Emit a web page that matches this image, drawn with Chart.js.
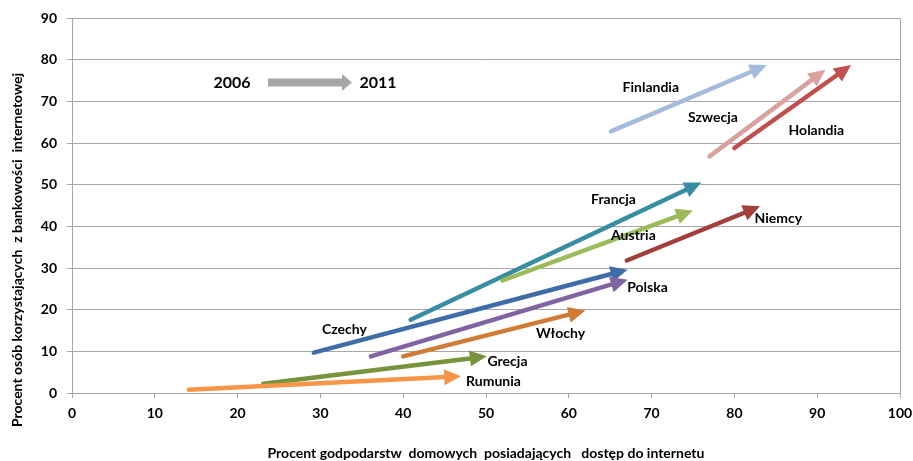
<!DOCTYPE html>
<html>
<head>
<meta charset="utf-8">
<script src="https://cdn.jsdelivr.net/npm/chart.js@4.4.1/dist/chart.umd.min.js"></script>
<style>
html,body{margin:0;padding:0;background:#fff;}
#wrap{width:913px;height:461px;}
</style>
</head>
<body>
<div id="wrap"><canvas id="c" width="913" height="461"></canvas></div>
<script>
// ---- data ----
const countries = ['Finlandia','Szwecja','Holandia','Francja','Austria','Niemcy','Czechy','Polska','Włochy','Grecja','Rumunia'];
const x2006 = [65.1, 77.0, 80.0, 40.9, 52.0, 67.0, 29.2, 36.1, 40.0, 23.1, 14.1];
const y2006 = [62.8, 56.8, 58.8, 17.6, 27.0, 31.8,  9.7,  8.8,  8.8,  2.2,  0.8];
const x2011 = [83.9, 91.0, 94.1, 76.0, 75.0, 83.1, 67.1, 67.1, 62.0, 50.1, 47.0];
const y2011 = [78.7, 77.6, 78.7, 50.5, 43.8, 44.8, 29.6, 27.2, 19.8,  8.8,  4.0];
const xTicks = [0,10,20,30,40,50,60,70,80,90,100];
const yTicks = [0,10,20,30,40,50,60,70,80,90];
const yearFrom = '2006';
const yearTo = '2011';
const xTitle = 'Procent godpodarstw  domowych  posiadających   dostęp do internetu';
const yTitle = 'Procent osób korzystających  z bankowości  internetowej';

// ---- styles ----
const colors = ['#A4BADA','#D9A19F','#C0504D','#378DA3','#9BBB59','#A23F3C','#3E6DA8','#8064A2','#D07C35','#77933C','#F79646'];
// label anchor (data units) for each country name
const labelPos = [[69.9,73.3],[77.4,66.1],[89.9,62.9],[65.4,46.4],[67.8,37.8],[85.3,41.8],[32.9,15.2],[69.5,25.3],[59.0,14.2],[52.6,7.5],[50.9,2.7]];
const FONT = 'Lato, "Open Sans", sans-serif';
const GRID = '#A6A6A6';

function drawArrow(ctx,x0,y0,x1,y1,color,lw,hl,hw){
  const dx=x1-x0, dy=y1-y0, L=Math.hypot(dx,dy), ux=dx/L, uy=dy/L;
  const bx=x1-ux*hl, by=y1-uy*hl;
  ctx.save();
  ctx.strokeStyle=color; ctx.fillStyle=color; ctx.lineWidth=lw; ctx.lineCap='round';
  ctx.beginPath(); ctx.moveTo(x0,y0); ctx.lineTo(bx+ux*2,by+uy*2); ctx.stroke();
  ctx.beginPath(); ctx.moveTo(x1,y1); ctx.lineTo(bx-uy*hw,by+ux*hw); ctx.lineTo(bx+uy*hw,by-ux*hw); ctx.closePath(); ctx.fill();
  ctx.restore();
}

const decor = {
  id:'decor',
  beforeDraw(chart){
    const {ctx,width,height}=chart;
    ctx.save(); ctx.fillStyle='#fff'; ctx.fillRect(0,0,width,height); ctx.restore();
  },
  afterDatasetsDraw(chart){
    const ctx=chart.ctx, xs=chart.scales.x, ys=chart.scales.y, ca=chart.chartArea;
    // right border of plot area
    ctx.save(); ctx.strokeStyle=GRID; ctx.lineWidth=1;
    ctx.beginPath(); ctx.moveTo(Math.round(ca.right)+0.5, ca.top); ctx.lineTo(Math.round(ca.right)+0.5, ca.bottom); ctx.stroke();
    ctx.restore();
    // arrows
    chart.data.datasets.forEach((ds,i)=>{
      const m=chart.getDatasetMeta(i);
      drawArrow(ctx,m.data[0].x,m.data[0].y,m.data[1].x,m.data[1].y,ds.borderColor,4.5,17,8);
    });
    // country labels
    ctx.save(); ctx.fillStyle='#000'; ctx.font='bold 14px '+FONT; ctx.textAlign='center'; ctx.textBaseline='middle';
    countries.forEach((c,i)=>{
      ctx.fillText(c, xs.getPixelForValue(labelPos[i][0]), ys.getPixelForValue(labelPos[i][1]));
    });
    ctx.restore();
    // year legend
    ctx.save(); ctx.fillStyle='#000'; ctx.font='bold 16px '+FONT; ctx.textAlign='center'; ctx.textBaseline='middle';
    ctx.fillText(yearFrom, 232, 83);
    ctx.fillText(yearTo, 378, 83);
    ctx.fillStyle='#A6A6A6';
    ctx.fillRect(268, 78.5, 74, 8);
    ctx.beginPath(); ctx.moveTo(352,82.5); ctx.lineTo(342,74); ctx.lineTo(342,91); ctx.closePath(); ctx.fill();
    ctx.restore();
    // axis titles
    ctx.save(); ctx.fillStyle='#000'; ctx.font='bold 14px '+FONT; ctx.textAlign='center'; ctx.textBaseline='middle';
    ctx.fillText(xTitle, 486, 453);
    ctx.translate(17, 250); ctx.rotate(-Math.PI/2);
    ctx.fillText(yTitle, 0, 0);
    ctx.restore();
  }
};

const datasets = countries.map((c,i)=>({
  label:c,
  data:[{x:x2006[i],y:y2006[i]},{x:x2011[i],y:y2011[i]}],
  borderColor:colors[i],
  backgroundColor:colors[i],
  showLine:false,
  pointRadius:0
}));

new Chart(document.getElementById('c'),{
  type:'scatter',
  data:{datasets},
  plugins:[decor],
  options:{
    responsive:false,
    animation:false,
    devicePixelRatio:1,
    layout:{padding:{left:0,top:18,right:13,bottom:0}},
    plugins:{legend:{display:false},tooltip:{enabled:false}},
    scales:{
      x:{
        type:'linear', min:0, max:100,
        afterBuildTicks(s){ s.ticks = xTicks.map(v=>({value:v})); },
        afterFit(s){ s.height = 68; s.paddingLeft = 0; s.paddingRight = 0; },
        ticks:{font:{family:FONT,size:14,weight:'bold'},color:'#000',padding:7,maxRotation:0,autoSkip:false},
        grid:{drawOnChartArea:false,drawTicks:true,tickLength:5,color:GRID},
        border:{color:GRID,width:1}
      },
      y:{
        type:'linear', min:0, max:90,
        afterBuildTicks(s){ s.ticks = yTicks.map(v=>({value:v})); },
        afterFit(s){ s.width = 72; s.paddingTop = 0; s.paddingBottom = 0; },
        ticks:{font:{family:FONT,size:14,weight:'bold'},color:'#000',padding:10,autoSkip:false},
        grid:{drawTicks:true,tickLength:5,color:GRID},
        border:{color:GRID,width:1}
      }
    }
  }
});
</script>
</body>
</html>
